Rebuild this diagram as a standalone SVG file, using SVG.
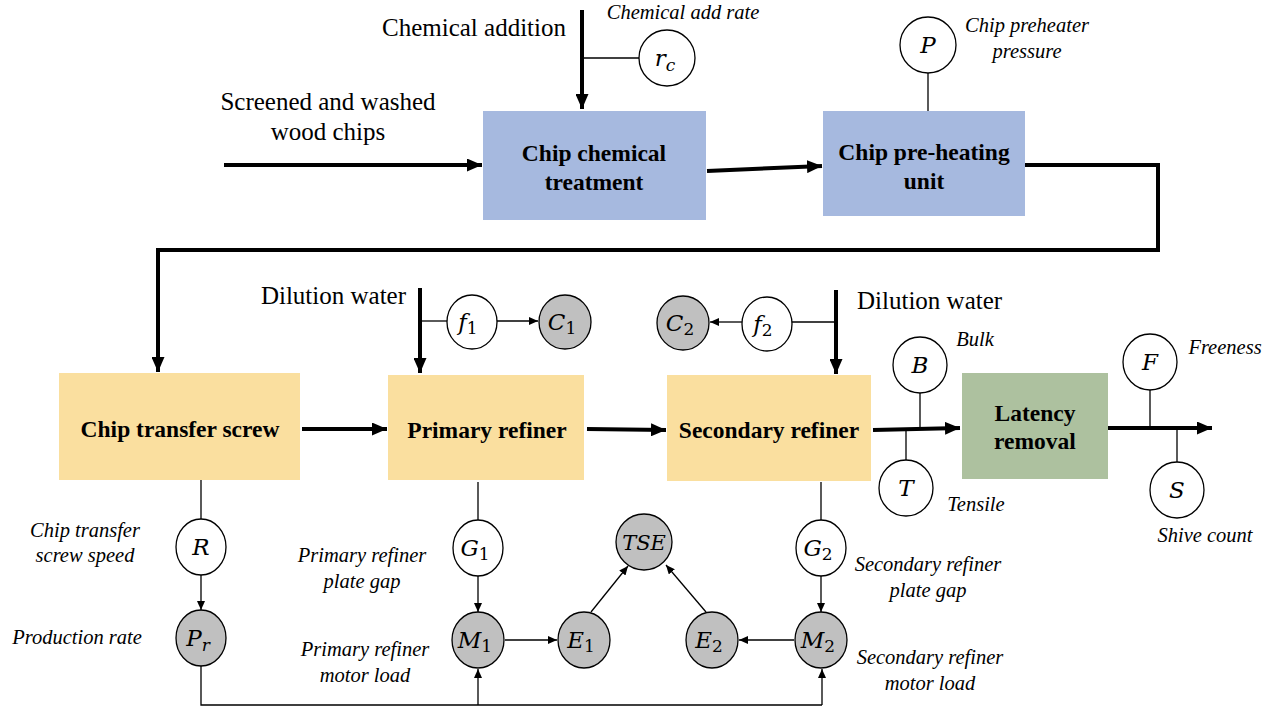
<svg xmlns="http://www.w3.org/2000/svg" width="1280" height="711" viewBox="0 0 1280 711">
<defs>
<style>
.bg{fill:#ffffff}
.blue{fill:#a6b9df}
.yel{fill:#fadf9f}
.grn{fill:#adc19f}
.thick{stroke:#000;stroke-width:4;fill:none}
.thin{stroke:#000;stroke-width:1.3;fill:none}
.wc{fill:#fff;stroke:#000;stroke-width:1.3}
.gc{fill:#c0c0c0;stroke:#000;stroke-width:1.3}
.bx{font-family:"Liberation Serif",serif;font-weight:bold;font-size:23.5px;fill:#000;text-anchor:middle}
.lb{font-family:"Liberation Serif",serif;font-size:25px;fill:#000}
.it{font-family:"Liberation Serif",serif;font-style:italic;font-size:20.5px;fill:#000;text-anchor:middle}
.m{font-family:"DejaVu Serif","Liberation Serif",serif;font-style:italic;font-size:23px;fill:#000;text-anchor:middle}
.sub{font-style:normal;font-size:17px}
.subi{font-size:17px}
</style>
<marker id="ah" markerUnits="userSpaceOnUse" markerWidth="15" markerHeight="13" refX="15" refY="6.5" orient="auto"><path d="M0,0 L15,6.5 L0,13 z" fill="#000"/></marker>
<marker id="at" markerUnits="userSpaceOnUse" markerWidth="9" markerHeight="8" refX="9" refY="4" orient="auto"><path d="M0,0 L9,4 L0,8 z" fill="#000"/></marker>
</defs>
<rect class="bg" x="0" y="0" width="1280" height="711"/>

<g id="connectors">
<line class="thick" x1="224" y1="165" x2="482" y2="165" marker-end="url(#ah)"/>
<line class="thick" x1="582" y1="10" x2="582" y2="109" marker-end="url(#ah)"/>
<line class="thin" x1="582" y1="58" x2="639" y2="58"/>
<line class="thick" x1="707" y1="171" x2="822" y2="166" marker-end="url(#ah)"/>
<line class="thin" x1="928" y1="73" x2="928" y2="111"/>
<polyline class="thick" points="1025,165 1158,165 1158,250 158,250 158,372" marker-end="url(#ah)"/>
<line class="thick" x1="302" y1="429" x2="387" y2="429" marker-end="url(#ah)"/>
<line class="thick" x1="587" y1="429" x2="666" y2="430" marker-end="url(#ah)"/>
<line class="thick" x1="873" y1="430" x2="960" y2="428" marker-end="url(#ah)"/>
<line class="thick" x1="1108" y1="428" x2="1212" y2="428" marker-end="url(#ah)"/>
<line class="thick" x1="420" y1="288" x2="420" y2="373" marker-end="url(#ah)"/>
<line class="thin" x1="420" y1="321" x2="448" y2="321"/>
<line class="thin" x1="497" y1="321" x2="538" y2="321" marker-end="url(#at)"/>
<line class="thick" x1="836" y1="290" x2="836" y2="374" marker-end="url(#ah)"/>
<line class="thin" x1="836" y1="322" x2="792" y2="322"/>
<line class="thin" x1="742" y1="322" x2="710" y2="322" marker-end="url(#at)"/>
<line class="thin" x1="920" y1="393" x2="920" y2="430"/>
<line class="thin" x1="906" y1="430" x2="906" y2="460"/>
<line class="thin" x1="1150" y1="390" x2="1150" y2="428"/>
<line class="thin" x1="1177" y1="428" x2="1177" y2="462"/>
<line class="thin" x1="201" y1="480" x2="201" y2="519"/>
<line class="thin" x1="201" y1="575" x2="201" y2="610" marker-end="url(#at)"/>
<line class="thin" x1="478" y1="482" x2="478" y2="520"/>
<line class="thin" x1="478" y1="576" x2="478" y2="612" marker-end="url(#at)"/>
<line class="thin" x1="821" y1="482" x2="821" y2="520"/>
<line class="thin" x1="821" y1="576" x2="821" y2="612" marker-end="url(#at)"/>
<line class="thin" x1="505" y1="640" x2="557" y2="640" marker-end="url(#at)"/>
<line class="thin" x1="794" y1="640" x2="739" y2="640" marker-end="url(#at)"/>
<line class="thin" x1="591" y1="612" x2="628" y2="566" marker-end="url(#at)"/>
<line class="thin" x1="706" y1="612" x2="666" y2="565" marker-end="url(#at)"/>
<polyline class="thin" points="201,665 201,705 822,705"/>
<line class="thin" x1="478" y1="705" x2="478" y2="669" marker-end="url(#at)"/>
<line class="thin" x1="822" y1="705" x2="822" y2="669" marker-end="url(#at)"/>
</g>

<g id="chemical_treatment"><rect class="blue" x="483" y="111" width="223" height="109"/><text class="bx" x="594" y="161">Chip chemical</text><text class="bx" x="594" y="190">treatment</text></g>
<g id="preheating"><rect class="blue" x="823" y="111" width="202" height="105"/><text class="bx" x="924" y="160">Chip pre-heating</text><text class="bx" x="924" y="189">unit</text></g>
<g id="transfer_screw"><rect class="yel" x="59" y="373" width="241" height="107"/><text class="bx" x="180" y="437">Chip transfer screw</text></g>
<g id="primary_refiner"><rect class="yel" x="388" y="375" width="196" height="105"/><text class="bx" x="487" y="438">Primary refiner</text></g>
<g id="secondary_refiner"><rect class="yel" x="667" y="375" width="204" height="106"/><text class="bx" x="769" y="438">Secondary refiner</text></g>
<g id="latency_removal"><rect class="grn" x="962" y="373" width="146" height="106"/><text class="bx" x="1035" y="421">Latency</text><text class="bx" x="1035" y="449">removal</text></g>

<g id="labels">
<text class="lb" x="382" y="36">Chemical addition</text>
<text class="it" x="683" y="19">Chemical add rate</text>
<text class="lb" x="328" y="110" text-anchor="middle">Screened and washed</text>
<text class="lb" x="328" y="140" text-anchor="middle">wood chips</text>
<text class="it" x="1027" y="32">Chip preheater</text>
<text class="it" x="1027" y="58">pressure</text>
<text class="lb" x="406" y="304" text-anchor="end">Dilution water</text>
<text class="lb" x="857" y="309">Dilution water</text>
<text class="it" x="975" y="346">Bulk</text>
<text class="it" x="976" y="511">Tensile</text>
<text class="it" x="1225" y="354">Freeness</text>
<text class="it" x="1205" y="542">Shive count</text>
<text class="it" x="85" y="537">Chip transfer</text>
<text class="it" x="85" y="562">screw speed</text>
<text class="it" x="77" y="644">Production rate</text>
<text class="it" x="362" y="562">Primary refiner</text>
<text class="it" x="362" y="588">plate gap</text>
<text class="it" x="365" y="656">Primary refiner</text>
<text class="it" x="365" y="682">motor load</text>
<text class="it" x="928" y="571">Secondary refiner</text>
<text class="it" x="928" y="597">plate gap</text>
<text class="it" x="930" y="664">Secondary refiner</text>
<text class="it" x="930" y="690">motor load</text>
</g>

<g id="node_rc"><circle class="wc" cx="667" cy="58" r="28"/><text class="m" x="665" y="66">r<tspan class="subi" dy="5">c</tspan></text></g>
<g id="node_P"><circle class="wc" cx="928" cy="45" r="28"/><text class="m" x="928" y="53">P</text></g>
<g id="node_f1"><ellipse class="wc" cx="472" cy="322" rx="25" ry="27"/><text class="m" x="468" y="330">f<tspan class="sub" dy="4">1</tspan></text></g>
<g id="node_C1"><ellipse class="gc" cx="565" cy="322" rx="26" ry="27"/><text class="m" x="562" y="330">C<tspan class="sub" dy="4">1</tspan></text></g>
<g id="node_f2"><ellipse class="wc" cx="767" cy="324" rx="25" ry="27"/><text class="m" x="763" y="332">f<tspan class="sub" dy="4">2</tspan></text></g>
<g id="node_C2"><ellipse class="gc" cx="683" cy="323" rx="26" ry="27"/><text class="m" x="680" y="331">C<tspan class="sub" dy="4">2</tspan></text></g>
<g id="node_B"><ellipse class="wc" cx="920" cy="365" rx="27" ry="28"/><text class="m" x="920" y="373">B</text></g>
<g id="node_T"><ellipse class="wc" cx="906" cy="488" rx="27" ry="28"/><text class="m" x="906" y="496">T</text></g>
<g id="node_F"><ellipse class="wc" cx="1150" cy="362" rx="27" ry="28"/><text class="m" x="1150" y="370">F</text></g>
<g id="node_S"><ellipse class="wc" cx="1177" cy="490" rx="27" ry="28"/><text class="m" x="1177" y="498">S</text></g>
<g id="node_R"><ellipse class="wc" cx="201" cy="547" rx="25" ry="28"/><text class="m" x="201" y="555">R</text></g>
<g id="node_Pr"><ellipse class="gc" cx="201" cy="638" rx="25" ry="28"/><text class="m" x="198" y="646">P<tspan class="subi" dy="5">r</tspan></text></g>
<g id="node_G1"><ellipse class="wc" cx="478" cy="548" rx="25" ry="28"/><text class="m" x="475" y="556">G<tspan class="sub" dy="4">1</tspan></text></g>
<g id="node_M1"><ellipse class="gc" cx="478" cy="640" rx="26" ry="28"/><text class="m" x="475" y="648">M<tspan class="sub" dy="4">1</tspan></text></g>
<g id="node_E1"><ellipse class="gc" cx="584" cy="640" rx="26" ry="28"/><text class="m" x="581" y="648">E<tspan class="sub" dy="4">1</tspan></text></g>
<g id="node_TSE"><ellipse class="gc" cx="644" cy="542" rx="28" ry="28"/><text class="m" x="644" y="550" style="font-size:21px">TSE</text></g>
<g id="node_E2"><ellipse class="gc" cx="712" cy="640" rx="26" ry="28"/><text class="m" x="709" y="648">E<tspan class="sub" dy="4">2</tspan></text></g>
<g id="node_G2"><ellipse class="wc" cx="821" cy="548" rx="25" ry="28"/><text class="m" x="818" y="556">G<tspan class="sub" dy="4">2</tspan></text></g>
<g id="node_M2"><ellipse class="gc" cx="821" cy="640" rx="26" ry="28"/><text class="m" x="818" y="648">M<tspan class="sub" dy="4">2</tspan></text></g>
</svg>
